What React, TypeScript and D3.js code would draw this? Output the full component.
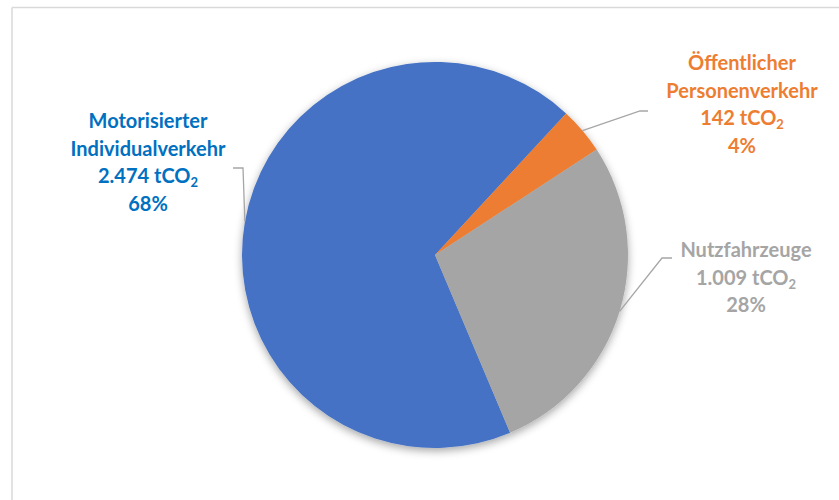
import React from "react";
import * as d3 from "d3";

const categories = ["Motorisierter Individualverkehr", "Öffentlicher Personenverkehr", "Nutzfahrzeuge"];
const values = [2474, 142, 1009];
const valueLabels = ["2.474", "142", "1.009"];
const percentLabels = ["68%", "4%", "28%"];
const nameLines = [["Motorisierter", "Individualverkehr"], ["Öffentlicher", "Personenverkehr"], ["Nutzfahrzeuge"]];
const colors = ["#4472C4", "#ED7D31", "#A5A5A5"];
const textColors = ["#0070C0", "#ED7D31", "#A5A5A5"];

const W = 839, H = 500;
const cx = 435, cy = 255, R = 193;
const startDeg = 157.1;

// label layout: [center x, first baseline y], elbow points
const labelPos = [
  { x: 148, y: 128 },
  { x: 742, y: 70 },
  { x: 746, y: 257 },
];
const elbows = [
  [[243, 168], [233, 168]],
  [[640, 111], [648, 111]],
  [[662, 258], [672, 258]],
];

export default function App() {
  const pie = d3.pie<number>().sort(null).value((d) => d)
    .startAngle((startDeg * Math.PI) / 180)
    .endAngle((startDeg * Math.PI) / 180 + 2 * Math.PI);
  const arcs = pie(values);
  const arc = d3.arc<d3.PieArcDatum<number>>().innerRadius(0).outerRadius(R);
  const lh = 27.5;
  return (
    <svg width={W} height={H} style={{ position: "absolute", left: 0, top: 0, background: "#fff" }}
      fontFamily="Lato, 'Open Sans', sans-serif">
      <defs>
        <filter id="sh" x="-20%" y="-20%" width="140%" height="140%">
          <feDropShadow dx="0" dy="3" stdDeviation="4" floodColor="#000" floodOpacity="0.35" />
        </filter>
      </defs>
      <line x1={12} y1={7.5} x2={W} y2={7.5} stroke="#d9d9d9" strokeWidth={1.5} />
      <line x1={12} y1={7.5} x2={12} y2={H} stroke="#d9d9d9" strokeWidth={1.5} />
      <g transform={`translate(${cx},${cy})`} filter="url(#sh)">
        {arcs.map((a, i) => (
          <path key={categories[i]} d={arc(a) || ""} fill={colors[i]} />
        ))}
      </g>
      {arcs.map((a, i) => {
        const mid = (a.startAngle + a.endAngle) / 2;
        const px = cx + R * Math.sin(mid);
        const py = cy - R * Math.cos(mid);
        const pts = [[px, py], ...elbows[i]];
        return (
          <path key={"l" + i} d={d3.line()(pts as [number, number][]) || ""} fill="none" stroke="#A6A6A6" strokeWidth={1.3} />
        );
      })}
      {categories.map((c, i) => {
        const lines = nameLines[i];
        const p = labelPos[i];
        return (
          <text key={"t" + i} x={p.x} y={p.y} textAnchor="middle" fill={textColors[i]} fontSize={20} fontWeight={700}>
            {lines.map((ln, j) => (
              <tspan key={j} x={p.x} y={p.y + j * lh}>{ln}</tspan>
            ))}
            <tspan x={p.x} y={p.y + lines.length * lh}>
              {valueLabels[i] + " tCO"}
              <tspan fontSize={13} dy={4}>2</tspan>
            </tspan>
            <tspan x={p.x} y={p.y + (lines.length + 1) * lh}>{percentLabels[i]}</tspan>
          </text>
        );
      })}
    </svg>
  );
}
